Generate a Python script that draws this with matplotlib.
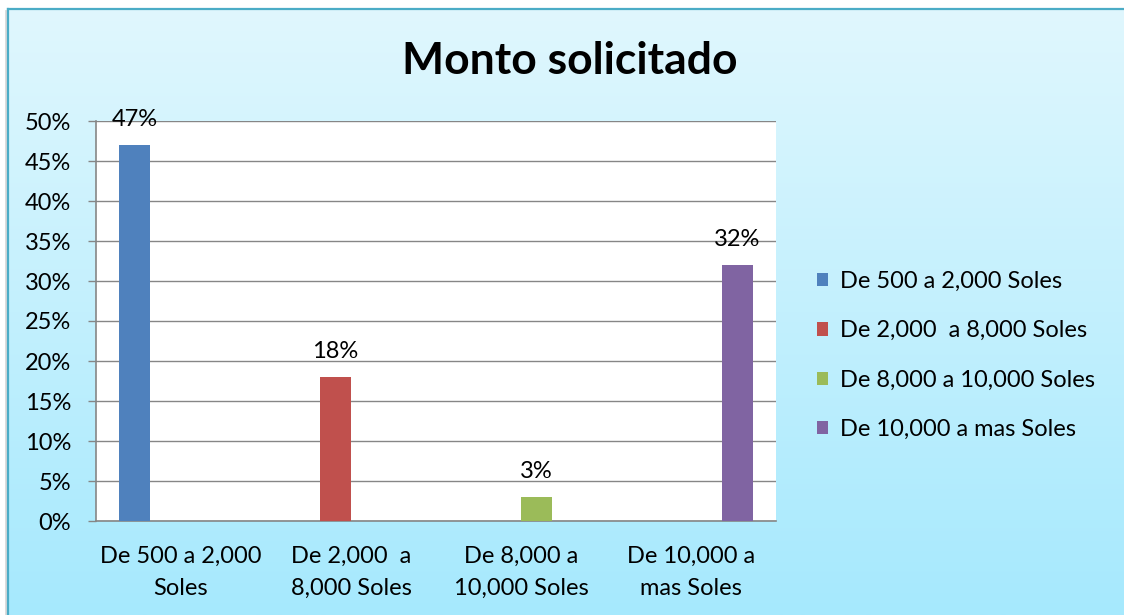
import numpy as np
import matplotlib
matplotlib.use("Agg")
import matplotlib.pyplot as plt
from matplotlib.lines import Line2D
from matplotlib.patches import Patch
from matplotlib.ticker import MultipleLocator, FuncFormatter

# chart data
categories = ["De 500 a 2,000\nSoles", "De 2,000  a\n8,000 Soles",
              "De 8,000 a\n10,000 Soles", "De 10,000 a\nmas Soles"]
series_names = ["De 500 a 2,000 Soles", "De 2,000  a 8,000 Soles",
                "De 8,000 a 10,000 Soles", "De 10,000 a mas Soles"]
values = [0.47, 0.18, 0.03, 0.32]
colors = ["#4f81bd", "#c0504d", "#9bbb59", "#8064a2"]

plt.rcParams["font.family"] = ["Lato", "DejaVu Sans"]
FS = 17

W, H = 1124, 615
fig = plt.figure(figsize=(W / 100, H / 100), dpi=100)
fig.patch.set_facecolor("white")

# gradient background inside the frame
bg = fig.add_axes([8 / W, 0, 1 - 8 / W, (H - 9) / H], zorder=-5)
top = np.array([224, 247, 254]) / 255
bot = np.array([166, 233, 253]) / 255
t = np.linspace(0, 1, 256)[:, None]
grad = (top * (1 - t) + bot * t)[:, None, :]
bg.imshow(grad, aspect="auto", extent=[0, 1, 0, 1], interpolation="bilinear")
bg.set_xlim(0, 1)
bg.set_ylim(0, 1)
bg.set_axis_off()

# frame border (left and top) with a soft shadow
fig.add_artist(Line2D([6 / W, 6 / W], [0, (H - 11) / H], transform=fig.transFigure,
                      color="#d8d8d8", lw=2))
fig.add_artist(Line2D([8 / W, 8 / W], [0, (H - 9) / H], transform=fig.transFigure,
                      color="#4bacc6", lw=1.6))
fig.add_artist(Line2D([8 / W, 1], [(H - 9) / H, (H - 9) / H], transform=fig.transFigure,
                      color="#4bacc6", lw=1.6))

# plot area
ax = fig.add_axes([96 / W, 94 / H, 680 / W, 400 / H])
ax.set_facecolor("white")

n = len(values)
w = 1 / 5.5
x = np.arange(n)
for j in range(n):
    vals = [values[j] if i == j else 0 for i in range(n)]
    ax.bar(x + (j - 1.5) * w, vals, width=w, color=colors[j],
           label=series_names[j], zorder=3)
    ax.annotate(f"{values[j] * 100:.0f}%", (x[j] + (j - 1.5) * w, values[j]),
                xytext=(0, 14), textcoords="offset points", ha="center",
                va="baseline", fontsize=FS, color="black")

ax.set_xlim(-0.5, n - 0.5)
ax.set_ylim(0, 0.5)
ax.yaxis.set_major_locator(MultipleLocator(0.05))
ax.yaxis.set_major_formatter(FuncFormatter(lambda v, p: f"{v * 100:.0f}%"))
ax.grid(axis="y", color="#868686", lw=1, zorder=0)
ax.set_axisbelow(True)
for s in ["top", "right"]:
    ax.spines[s].set_visible(False)
for s in ["left", "bottom"]:
    ax.spines[s].set_color("#868686")
    ax.spines[s].set_linewidth(1.2)

ax.set_xticks(x)
ax.set_xticklabels(categories, fontsize=FS, linespacing=1.65)
ax.tick_params(axis="x", length=0, pad=18)
ax.tick_params(axis="y", length=6, width=1, color="#868686", pad=12, labelsize=FS)

fig.text(570 / W, 1 - 61 / H, "Monto solicitado", ha="center", va="center",
         fontsize=32, fontweight="bold")

handles = [Patch(facecolor=c, edgecolor="none") for c in colors]
fig.legend(handles, series_names, loc="upper left",
           bbox_to_anchor=(817 / W, 1 - 271 / H), frameon=False,
           fontsize=FS, handlelength=0.48, handleheight=0.48,
           handletextpad=0.5, labelspacing=1.2, borderpad=0, borderaxespad=0)

fig.savefig("out.png", dpi=100)
